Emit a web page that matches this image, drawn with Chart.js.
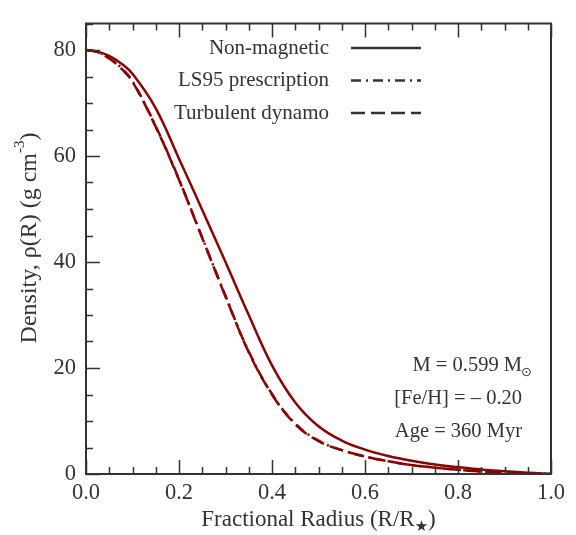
<!DOCTYPE html>
<html>
<head>
<meta charset="utf-8">
<script src="https://cdn.jsdelivr.net/npm/chart.js@4/dist/chart.umd.min.js"></script>
<style>
html,body{margin:0;padding:0;background:#fff;}
#wrap{width:576px;height:535px;}
</style>
</head>
<body>
<div id="wrap"><canvas id="c" width="576" height="535"></canvas></div>
<script>
// ---- data ----
const radius =      [0, 0.025, 0.05, 0.075, 0.1, 0.15, 0.2, 0.25, 0.3, 0.35, 0.4, 0.45, 0.5, 0.55, 0.6, 0.65, 0.7, 0.75, 0.8, 0.85, 0.9, 0.95, 1.0];
const nonMagnetic = [80, 79.7, 78.9, 77.5, 75.5, 69.0, 59.5, 49.8, 40.0, 30.0, 20.5, 13.5, 9.0, 6.3, 4.6, 3.4, 2.5, 1.8, 1.3, 0.85, 0.5, 0.22, 0.03];
const ls95 =        [80, 79.6, 78.5, 76.7, 74.1, 65.6, 55.6, 44.6, 33.6, 23.1, 15.1, 9.5, 6.3, 4.5, 3.3, 2.4, 1.7, 1.2, 0.8, 0.45, 0.22, 0.08, 0.01];
const turbulent =   [80, 79.6, 78.4, 76.6, 74.0, 65.5, 55.5, 44.5, 33.5, 23.0, 15.0, 9.4, 6.2, 4.5, 3.3, 2.4, 1.7, 1.2, 0.8, 0.45, 0.22, 0.08, 0.01];
const seriesNames = ['Non-magnetic', 'LS95 prescription', 'Turbulent dynamo'];
const xTicks = [0, 0.2, 0.4, 0.6, 0.8, 1.0];
const yTicks = [0, 20, 40, 60, 80];
const annotation = ['M = 0.599 M', '[Fe/H] = \u2013 0.20', 'Age = 360 Myr'];

const RED = '#8b0000';
const INK = '#333333';
const SERIF = '"Liberation Serif", "DejaVu Serif", serif';
const dashes = [[], [10, 5, 2, 5], [14, 6]];

function toXY(xs, ys){ return xs.map((x,i)=>({x:x, y:ys[i]})); }

const framePlugin = {
  id: 'frame',
  afterDatasetsDraw(chart){
    const {ctx, chartArea:a, scales:{x, y}} = chart;
    ctx.save();
    // frame
    ctx.strokeStyle = INK; ctx.lineWidth = 2;
    ctx.strokeRect(a.left, a.top, a.right - a.left, a.bottom - a.top);
    ctx.lineWidth = 1.5;
    ctx.beginPath();
    // x ticks bottom & top (inward)
    for (let v = 0; v <= 1.0001; v += 0.05) {
      const px = Math.round(x.getPixelForValue(v)) + 0.5;
      const major = Math.abs(v*5 - Math.round(v*5)) < 1e-6;
      const len = major ? 14 : 7;
      ctx.moveTo(px, a.bottom); ctx.lineTo(px, a.bottom - len);
      ctx.moveTo(px, a.top); ctx.lineTo(px, a.top + len);
    }
    // y ticks left
    for (let v = 0; v <= 85; v += 5) {
      const py = Math.round(y.getPixelForValue(v)) + 0.5;
      const major = v % 20 === 0;
      const len = major ? 14 : 7;
      ctx.moveTo(a.left, py); ctx.lineTo(a.left + len, py);
    }
    ctx.stroke();

    // legend
    ctx.font = '21px ' + SERIF;
    ctx.fillStyle = INK;
    ctx.textAlign = 'right'; ctx.textBaseline = 'middle';
    const ly = [48, 80.5, 113];
    chart.data.datasets.forEach((ds, i) => {
      ctx.fillText(ds.label, 329, ly[i]);
      ctx.save();
      ctx.strokeStyle = INK; ctx.lineWidth = 2.5;
      ctx.setLineDash(ds.borderDash || []);
      ctx.beginPath(); ctx.moveTo(351, ly[i]); ctx.lineTo(421, ly[i]); ctx.stroke();
      ctx.restore();
    });

    // annotation (right-aligned, sun symbol as subscript)
    ctx.textAlign = 'right';
    const ay = [366, 399, 432];
    annotation.forEach((t, i) => {
      ctx.font = '20.5px ' + SERIF;
      ctx.fillText(t, 522, ay[i]);
      if (i === 0) {
        ctx.textAlign = 'left';
        ctx.font = '13px "DejaVu Sans"';
        ctx.fillText('\u2299', 521, ay[i] + 7);
        ctx.textAlign = 'right';
      }
    });
    ctx.textAlign = 'left';

    // x title
    ctx.font = '23px ' + SERIF;
    const xt1 = 'Fractional Radius (R/R', xt3 = ')';
    const w1 = ctx.measureText(xt1).width, w3 = ctx.measureText(xt3).width;
    ctx.font = '15px "DejaVu Sans"';
    const w2 = ctx.measureText('\u2605').width;
    const xStart = (a.left + a.right) / 2 - (w1 + w2 + w3) / 2;
    const tY = 520;
    ctx.font = '23px ' + SERIF; ctx.fillText(xt1, xStart, tY);
    ctx.font = '15px "DejaVu Sans"'; ctx.fillText('\u2605', xStart + w1, tY + 7);
    ctx.font = '23px ' + SERIF; ctx.fillText(xt3, xStart + w1 + w2, tY);

    // y title (rotated)
    ctx.save();
    ctx.translate(30, 238);
    ctx.rotate(-Math.PI / 2);
    ctx.font = '24px ' + SERIF;
    const yt1 = 'Density, \u03c1(R) (g cm', yt3 = ')';
    const yw1 = ctx.measureText(yt1).width, yw3 = ctx.measureText(yt3).width;
    ctx.font = '15px ' + SERIF;
    const yw2 = ctx.measureText('-3').width;
    const ys = -(yw1 + yw2 + yw3) / 2;
    ctx.font = '24px ' + SERIF; ctx.fillText(yt1, ys, 0);
    ctx.font = '15px ' + SERIF; ctx.fillText('-3', ys + yw1, -10);
    ctx.font = '24px ' + SERIF; ctx.fillText(yt3, ys + yw1 + yw2, 0);
    ctx.restore();

    ctx.restore();
  }
};

new Chart(document.getElementById('c'), {
  type: 'line',
  data: {
    datasets: [
      { label: seriesNames[0], data: toXY(radius, nonMagnetic), borderColor: RED, borderWidth: 2.5, borderDash: dashes[0], pointRadius: 0, tension: 0.4, fill: false },
      { label: seriesNames[1], data: toXY(radius, ls95), borderColor: RED, borderWidth: 2.5, borderDash: dashes[1], pointRadius: 0, tension: 0.4, fill: false },
      { label: seriesNames[2], data: toXY(radius, turbulent), borderColor: RED, borderWidth: 2.5, borderDash: dashes[2], pointRadius: 0, tension: 0.4, fill: false }
    ]
  },
  options: {
    responsive: false,
    animation: false,
    devicePixelRatio: 1,
    layout: { padding: { left: 0, right: 25, top: 10, bottom: 0 } },
    plugins: { legend: { display: false }, tooltip: { enabled: false } },
    scales: {
      x: {
        type: 'linear', min: 0, max: 1,
        afterBuildTicks: s => { s.ticks = xTicks.map(v => ({ value: v })); },
        afterFit: s => { s.height = 61; },
        grid: { display: false, drawTicks: false },
        border: { display: false },
        ticks: { font: { family: SERIF, size: 22.5 }, color: INK, padding: 6, maxRotation: 0, callback: v => Number(v).toFixed(1) }
      },
      y: {
        type: 'linear', min: 0, max: 85,
        afterBuildTicks: s => { s.ticks = yTicks.map(v => ({ value: v })); },
        afterFit: s => { s.width = 86; },
        grid: { display: false, drawTicks: false },
        border: { display: false },
        ticks: { font: { family: SERIF, size: 22.5 }, color: INK, padding: 10 }
      }
    }
  },
  plugins: [framePlugin]
});
</script>
</body>
</html>
